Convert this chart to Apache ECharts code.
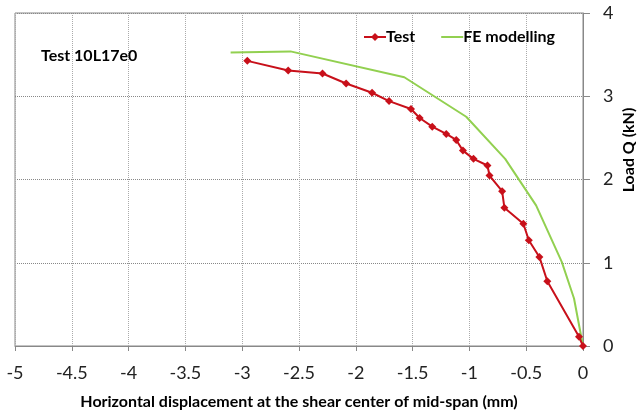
<!DOCTYPE html>
<html><head><meta charset="utf-8">
<script src="https://cdn.jsdelivr.net/npm/echarts@6/dist/echarts.min.js"></script>
<style>html,body{margin:0;padding:0;background:#fff}#c{width:638px;height:412px}</style>
</head><body><div id="c"></div>
<script>
const testX = [-2.955,-2.595,-2.293,-2.085,-1.857,-1.707,-1.514,-1.438,-1.327,-1.204,-1.116,-1.057,-0.964,-0.841,-0.823,-0.712,-0.692,-0.525,-0.477,-0.384,-0.314,-0.035,0];
const testY = [3.425,3.31,3.273,3.153,3.042,2.942,2.847,2.739,2.635,2.547,2.475,2.347,2.248,2.168,2.048,1.86,1.661,1.469,1.27,1.07,0.778,0.111,0];
const feX = [-3.102,-2.575,-1.573,-1.028,-0.685,-0.413,-0.187,-0.079,0];
const feY = [3.527,3.539,3.228,2.754,2.248,1.689,1.01,0.571,0];
const xName = 'Horizontal displacement at the shear center of mid-span (mm)';
const yName = 'Load Q (kN)';
const titleText = 'Test 10L17e0';

const font = 'Lato';
const bold = {fontFamily: font, fontSize: 16, fontWeight: 'bold', color: '#000'};
const chart = echarts.init(document.getElementById('c'));
chart.setOption({
  animation: false,
  title: {text: titleText, left: 36, top: 43, textStyle: bold},
  legend: {
    top: 24, left: 358, itemGap: 25, itemWidth: 22, itemHeight: 10,
    textStyle: Object.assign({}, bold, {padding: [0,0,0,-5]}),
    data: ['Test', {name: 'FE modelling', itemStyle: {opacity: 0}}]
  },
  grid: {left: 15, right: 55, top: 13, bottom: 66, show: true, borderColor: '#888', borderWidth: 1, outerBoundsMode: 'none'},
  graphic: [{type: 'text', x: 629, y: 150, rotation: Math.PI/2,
    style: Object.assign({text: yName, align: 'center', verticalAlign: 'middle', fill: '#000',
      font: 'bold 16px Lato'})}],
  xAxis: {
    type: 'value', min: -5, max: 0, interval: 0.5,
    name: xName, nameLocation: 'middle', nameGap: 48,
    nameTextStyle: bold,
    axisLine: {onZero: false, lineStyle: {color: '#888'}},
    axisTick: {show: true, length: 5, lineStyle: {color: '#888'}},
    axisLabel: {fontFamily: font, fontSize: 18, color: '#222', margin: 18},
    splitLine: {show: true, lineStyle: {type: 'dotted', color: '#aaa'}}
  },
  yAxis: {
    type: 'value', position: 'right', min: 0, max: 4, interval: 1,
    axisLine: {show: true, lineStyle: {color: '#888'}},
    axisTick: {show: true, length: 7, lineStyle: {color: '#888'}},
    axisLabel: {fontFamily: font, fontSize: 18, color: '#222', margin: 20},
    splitLine: {show: true, lineStyle: {type: 'dotted', color: '#888'}}
  },
  series: [
    {name: 'Test', type: 'line', data: testX.map((x,i)=>[x,testY[i]]),
     symbol: 'diamond', symbolSize: 8, color: '#c8101a',
     lineStyle: {width: 2, color: '#c8101a'}, itemStyle: {color: '#c8101a'}, z: 3},
    {name: 'FE modelling', type: 'line', data: feX.map((x,i)=>[x,feY[i]]),
     symbol: 'none', color: '#92d050', lineStyle: {width: 2, color: '#92d050'}, z: 2}
  ]
});
</script></body></html>
